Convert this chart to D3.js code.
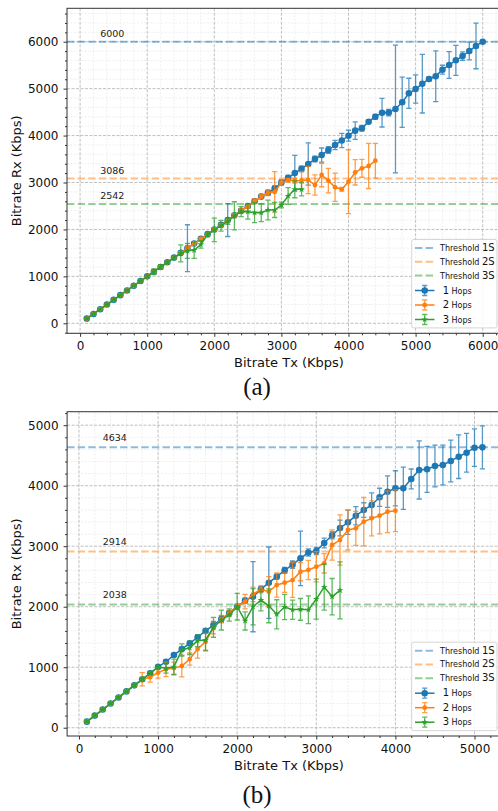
<!DOCTYPE html>
<html>
<head>
<meta charset="utf-8">
<script src="https://cdn.jsdelivr.net/npm/d3@7"></script>
<style>
  body { margin: 0; background: #fff; }
  svg { display: block; font-family: "DejaVu Sans", sans-serif; }
</style>
</head>
<body>
<svg id="fig" width="498" height="811"></svg>
<script>
// ---- panel (a) ----
const txA1 = [100,200,300,400,500,600,700,800,900,1000,1100,1200,1300,1400,1500,1600,1700,1800,1900,2000,2100,2200,2300,2400,2500,2600,2700,2800,2900,3000,3100,3200,3300,3400,3500,3600,3700,3800,3900,4000,4100,4200,4300,4400,4500,4600,4700,4800,4900,5000,5100,5200,5300,5400,5500,5600,5700,5800,5900,6000];
const rxA1 = [100,200,300,400,500,600,700,800,900,1000,1100,1200,1300,1400,1500,1600,1700,1800,1900,2000,2100,2200,2300,2400,2500,2600,2700,2780,2870,3000,3100,3200,3290,3395,3500,3585,3693,3799,3895,3998,4105,4155,4296,4402,4488,4490,4566,4709,4901,4992,5106,5206,5263,5404,5504,5604,5695,5802,5909,6000];
const errA1 = [10,12,10,15,12,10,14,12,10,15,20,15,18,25,20,500,25,30,20,25,30,350,30,40,35,40,45,50,60,55,50,380,60,450,60,150,70,100,150,115,185,60,30,50,305,70,1360,535,320,300,625,40,540,95,285,320,90,190,485,10];

const txA2 = [100,200,300,400,500,600,700,800,900,1000,1100,1200,1300,1400,1500,1600,1700,1800,1900,2000,2100,2200,2300,2400,2500,2600,2700,2800,2900,3000,3100,3200,3300,3400,3500,3600,3700,3800,3900,4000,4100,4200,4300,4400];
const rxA2 = [100,200,300,400,500,600,700,800,900,1000,1100,1200,1300,1400,1500,1600,1700,1800,1900,2000,2090,2190,2300,2400,2490,2600,2700,2780,2800,3000,3050,3040,3045,3055,2947,3160,3040,2898,2855,3018,3217,3302,3352,3465];
const errA2 = [10,10,12,10,12,15,10,12,15,10,15,20,15,25,20,60,40,30,25,30,40,35,40,45,40,50,40,60,430,60,40,50,190,290,215,250,260,300,40,680,270,190,480,370];

const txA3 = [100,200,300,400,500,600,700,800,900,1000,1100,1200,1300,1400,1500,1600,1700,1800,1900,2000,2100,2200,2300,2400,2500,2600,2700,2800,2900,3000,3100,3200,3300];
const rxA3 = [100,200,300,400,500,600,700,800,900,1000,1100,1200,1300,1400,1490,1545,1560,1680,1890,1990,2080,2170,2290,2380,2378,2357,2357,2414,2414,2521,2713,2855,2855];
const errA3 = [10,12,10,15,12,10,15,12,15,20,60,50,30,40,180,160,175,80,40,250,115,60,300,107,160,213,190,210,160,60,180,180,140];

const thresholdsA = [6000, 3086, 2542];
const ticksA = [0, 1000, 2000, 3000, 4000, 5000, 6000];

// ---- panel (b) ----
const txB1 = [100,200,300,400,500,600,700,800,900,1000,1100,1200,1300,1400,1500,1600,1700,1800,1900,2000,2100,2200,2300,2400,2500,2600,2700,2800,2900,3000,3100,3200,3300,3400,3500,3600,3700,3800,3900,4000,4100,4200,4300,4400,4500,4600,4700,4800,4900,5000,5100];
const rxB1 = [100,200,300,400,500,600,700,800,900,1005,1090,1201,1300,1394,1495,1600,1697,1797,1895,2000,2100,2166,2287,2397,2496,2600,2695,2799,2895,2920,3052,3180,3301,3395,3504,3598,3681,3808,3901,3957,3957,4111,4260,4271,4326,4342,4408,4479,4545,4628,4634];
const errB1 = [10,10,12,10,12,10,15,12,15,20,25,20,25,30,25,30,60,50,30,20,40,580,40,590,40,50,60,450,60,60,80,60,130,200,150,120,200,150,260,290,350,165,480,380,345,330,345,360,320,310,355];

const txB2 = [100,200,300,400,500,600,700,800,900,1000,1100,1200,1300,1400,1500,1600,1700,1800,1900,2000,2100,2200,2300,2400,2500,2600,2700,2800,2900,3000,3100,3200,3300,3400,3500,3600,3700,3800,3900,4000];
const rxB2 = [100,200,300,400,500,600,700,800,835,910,965,985,1020,1135,1300,1420,1650,1795,1890,2010,2083,2205,2287,2248,2358,2397,2441,2579,2607,2661,2717,3020,3102,3268,3295,3405,3460,3504,3570,3587];
const errB2 = [10,10,12,10,12,15,20,110,80,90,120,100,180,100,150,140,100,60,50,40,120,120,60,248,200,160,287,150,160,250,160,250,415,330,280,400,290,300,345,345];

const txB3 = [100,200,300,400,500,600,700,800,900,1000,1100,1200,1300,1400,1500,1600,1700,1800,1900,2000,2100,2200,2300,2400,2500,2600,2700,2800,2900,3000,3100,3200,3300];
const rxB3 = [100,200,300,400,500,600,700,800,900,1000,985,1005,1285,1320,1440,1450,1660,1780,1863,2000,1765,2000,2110,2015,1875,1995,1950,1956,1950,2125,2325,2166,2270];
const errB3 = [10,12,10,15,12,10,15,20,25,20,83,130,100,110,100,180,165,165,100,220,150,300,180,280,240,210,160,180,230,330,380,300,470];

const thresholdsB = [4634, 2914, 2038];
const ticksB = [0, 1000, 2000, 3000, 4000, 5000];

const colors = ['#1f77b4', '#ff7f0e', '#2ca02c'];
const thresholdNames = ['1S', '2S', '3S'];
const hopNames = ['1', '2', '3'];

const svg = d3.select('#fig');

function drawPanel(p) {
  const x = d3.scaleLinear().domain(p.xDomain).range([p.left, p.right]);
  const y = d3.scaleLinear().domain(p.yDomain).range([p.bottom, p.top]);
  const g = svg.append('g');

  const clipId = 'clip-' + p.name;
  svg.append('clipPath').attr('id', clipId)
    .append('rect')
    .attr('x', p.left).attr('y', p.top)
    .attr('width', p.right - p.left).attr('height', p.bottom - p.top);

  const plot = g.append('g').attr('clip-path', `url(#${clipId})`);

  // minor + major grid
  const minorX = d3.range(-200, p.xDomain[1], 200).filter(v => v > p.xDomain[0] && v % 1000 !== 0);
  const minorY = d3.range(-200, p.yDomain[1], 200).filter(v => v > p.yDomain[0] && v % 1000 !== 0);

  plot.selectAll('.mgx').data(minorX).enter().append('line')
    .attr('x1', d => x(d)).attr('x2', d => x(d))
    .attr('y1', p.top).attr('y2', p.bottom)
    .attr('stroke', '#e4e4e4').attr('stroke-width', 0.6).attr('stroke-dasharray', '2,1.5');
  plot.selectAll('.mgy').data(minorY).enter().append('line')
    .attr('y1', d => y(d)).attr('y2', d => y(d))
    .attr('x1', p.left).attr('x2', p.right)
    .attr('stroke', '#e4e4e4').attr('stroke-width', 0.6).attr('stroke-dasharray', '2,1.5');

  plot.selectAll('.gx').data(p.ticks).enter().append('line')
    .attr('x1', d => x(d)).attr('x2', d => x(d))
    .attr('y1', p.top).attr('y2', p.bottom)
    .attr('stroke', '#b0b0b0').attr('stroke-width', 0.8).attr('stroke-dasharray', '3,1.5');
  plot.selectAll('.gy').data(p.ticks).enter().append('line')
    .attr('y1', d => y(d)).attr('y2', d => y(d))
    .attr('x1', p.left).attr('x2', p.right)
    .attr('stroke', '#b0b0b0').attr('stroke-width', 0.8).attr('stroke-dasharray', '3,1.5');

  // thresholds
  p.thresholds.forEach((t, i) => {
    plot.append('line')
      .attr('x1', p.left).attr('x2', p.right)
      .attr('y1', y(t)).attr('y2', y(t))
      .attr('stroke', colors[i]).attr('stroke-opacity', 0.5)
      .attr('stroke-width', 2).attr('stroke-dasharray', '7.4,3.2');
    plot.append('text')
      .attr('x', x(300)).attr('y', y(t + 100))
      .attr('font-size', 9.5).attr('fill', '#222')
      .text(t);
  });

  // series
  const symbols = [
    d3.symbol(d3.symbolCircle, 34),
    d3.symbol(d3.symbolCircle, 18),
    d3.symbol(d3.symbolStar, 14)
  ];
  p.series.forEach((s, k) => {
    const pts = s.tx.map((v, i) => ({ x: v, y: s.rx[i], e: s.err[i] }));
    const sg = plot.append('g');
    sg.selectAll('.eb').data(pts).enter().append('path')
      .attr('d', d => {
        const cx = x(d.x), y0 = y(d.y - d.e), y1 = y(d.y + d.e);
        return `M${cx},${y0}V${y1}M${cx - 2.6},${y0}H${cx + 2.6}M${cx - 2.6},${y1}H${cx + 2.6}`;
      })
      .attr('stroke', colors[k]).attr('stroke-opacity', 0.75)
      .attr('stroke-width', 1.3).attr('fill', 'none');
    sg.append('path').datum(pts)
      .attr('d', d3.line().x(d => x(d.x)).y(d => y(d.y)))
      .attr('fill', 'none').attr('stroke', colors[k]).attr('stroke-width', 1.5);
    sg.selectAll('.mk').data(pts).enter().append('path')
      .attr('d', symbols[k])
      .attr('transform', d => `translate(${x(d.x)},${y(d.y)})`)
      .attr('fill', colors[k]);
  });

  // axes
  const fmt = d3.format('d');
  const xAxis = g.append('g').attr('transform', `translate(0,${p.bottom})`)
    .call(d3.axisBottom(x).tickValues(p.ticks).tickFormat(fmt).tickSize(3.5).tickPadding(5));
  const xMinor = g.append('g').attr('transform', `translate(0,${p.bottom})`)
    .call(d3.axisBottom(x).tickValues(minorX.filter(v => x(v) < 498)).tickFormat('').tickSize(2));
  const yAxis = g.append('g').attr('transform', `translate(${p.left},0)`)
    .call(d3.axisLeft(y).tickValues(p.ticks).tickFormat(fmt).tickSize(3.5).tickPadding(5));
  const yMinor = g.append('g').attr('transform', `translate(${p.left},0)`)
    .call(d3.axisLeft(y).tickValues(minorY).tickFormat('').tickSize(2));
  [xAxis, xMinor, yAxis, yMinor].forEach(a => {
    a.select('.domain').remove();
    a.selectAll('line').attr('stroke', '#333');
    a.selectAll('text').attr('font-size', 12).attr('fill', '#111')
      .attr('font-family', '"DejaVu Sans", sans-serif');
  });

  // frame
  g.append('rect')
    .attr('x', p.left).attr('y', p.top)
    .attr('width', p.right - p.left).attr('height', p.bottom - p.top)
    .attr('fill', 'none').attr('stroke', '#333').attr('stroke-width', 1);

  // axis labels
  g.append('text')
    .attr('x', 289).attr('y', p.bottom + 33.7)
    .attr('text-anchor', 'middle').attr('font-size', 13).attr('fill', '#111')
    .text('Bitrate Tx (Kbps)');
  g.append('text')
    .attr('transform', `translate(21,${(p.top + p.bottom) / 2}) rotate(-90)`)
    .attr('text-anchor', 'middle').attr('font-size', 13).attr('fill', '#111')
    .text('Bitrate Rx (Kbps)');

  // caption
  g.append('text')
    .attr('x', 257).attr('y', p.captionY)
    .attr('text-anchor', 'middle')
    .attr('font-family', '"Liberation Serif", serif').attr('font-size', 25).attr('fill', '#111')
    .text(p.caption);

  // legend
  const lx = 411.7, ly = p.bottom - 5.4 - 88.4;
  const lg = g.append('g');
  lg.append('rect')
    .attr('x', lx).attr('y', ly).attr('width', 85.3).attr('height', 88.4)
    .attr('rx', 2).attr('fill', '#fff').attr('fill-opacity', 0.85)
    .attr('stroke', '#cccccc').attr('stroke-width', 0.8);
  const rows = [8.5, 22.2, 36, 51, 65.5, 80];
  thresholdNames.forEach((n, i) => {
    const ry = ly + rows[i];
    lg.append('line')
      .attr('x1', lx + 3.3).attr('x2', lx + 22.8).attr('y1', ry).attr('y2', ry)
      .attr('stroke', colors[i]).attr('stroke-opacity', 0.5)
      .attr('stroke-width', 2).attr('stroke-dasharray', '7.4,3.2');
    const t = lg.append('text').attr('x', lx + 28.3).attr('y', ry + 3).attr('fill', '#111');
    t.append('tspan').attr('font-size', 8).text('Threshold ');
    t.append('tspan').attr('font-size', 10).text(n);
  });
  hopNames.forEach((n, i) => {
    const ry = ly + rows[i + 3];
    const cx = lx + 13;
    lg.append('line')
      .attr('x1', lx + 3.3).attr('x2', lx + 22.8).attr('y1', ry).attr('y2', ry)
      .attr('stroke', colors[i]).attr('stroke-width', 1.5);
    lg.append('path')
      .attr('d', `M${cx},${ry - 5}V${ry + 5}M${cx - 2.6},${ry - 5}H${cx + 2.6}M${cx - 2.6},${ry + 5}H${cx + 2.6}`)
      .attr('stroke', colors[i]).attr('stroke-opacity', 0.75).attr('stroke-width', 1.3).attr('fill', 'none');
    lg.append('path').attr('d', symbols[i]).attr('transform', `translate(${cx},${ry})`).attr('fill', colors[i]);
    const t = lg.append('text').attr('x', lx + 31).attr('y', ry + 3).attr('fill', '#111');
    t.append('tspan').attr('font-size', 10).text(n);
    t.append('tspan').attr('font-size', 8).text(' Hops');
  });
}

drawPanel({
  name: 'a', left: 67, right: 502.5, top: 8.3, bottom: 333.3,
  xDomain: [-195, 6295], yDomain: [-213, 6712],
  ticks: ticksA, thresholds: thresholdsA, caption: '(a)', captionY: 395,
  series: [
    { tx: txA1, rx: rxA1, err: errA1 },
    { tx: txA2, rx: rxA2, err: errA2 },
    { tx: txA3, rx: rxA3, err: errA3 }
  ]
});

drawPanel({
  name: 'b', left: 67.1, right: 502.2, top: 411.7, bottom: 736,
  xDomain: [-150, 5350], yDomain: [-137, 5223],
  ticks: ticksB, thresholds: thresholdsB, caption: '(b)', captionY: 803,
  series: [
    { tx: txB1, rx: rxB1, err: errB1 },
    { tx: txB2, rx: rxB2, err: errB2 },
    { tx: txB3, rx: rxB3, err: errB3 }
  ]
});
</script>
</body>
</html>
